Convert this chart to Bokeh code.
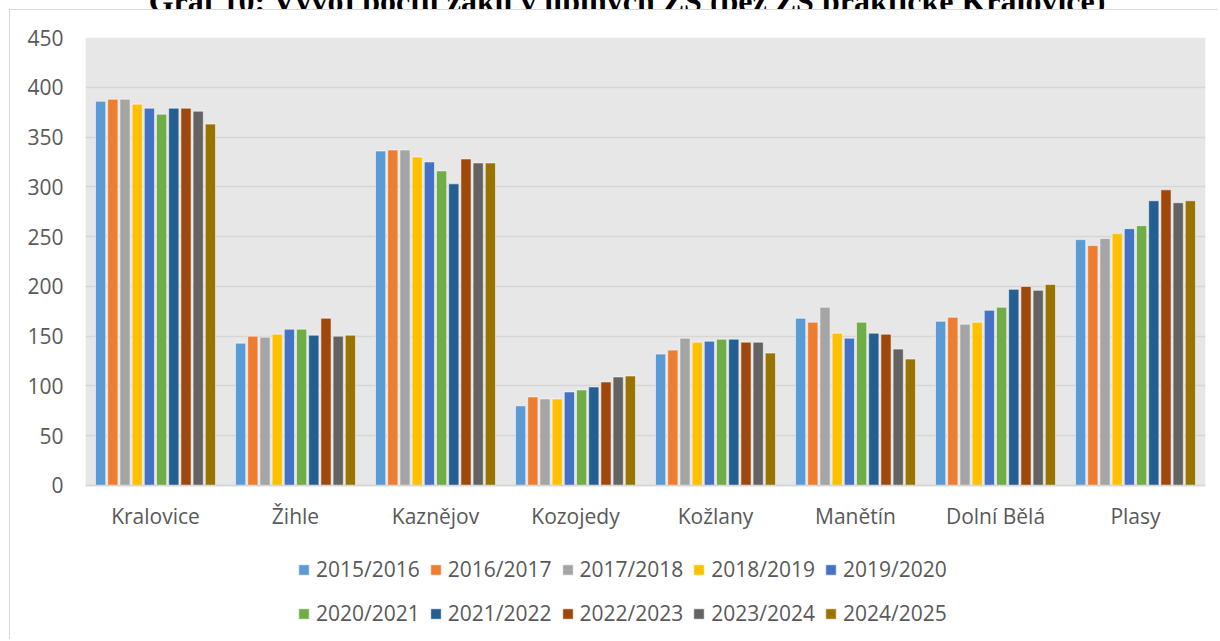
from bokeh.plotting import figure
from bokeh.models import (ColumnDataSource, FactorRange, Range1d, FixedTicker, Legend,
                          LegendItem, BoxAnnotation, Span, Div)
from bokeh.layouts import column
from bokeh.transform import dodge
from bokeh.core.properties import value
from bokeh.embed import file_html
from bokeh.resources import INLINE

title = "Graf 10: Vývoj počtu žáků v úplných ZŠ (bez ZŠ praktické Kralovice)"
categories = ["Kralovice", "Žihle", "Kaznějov", "Kozojedy", "Kožlany", "Manětín", "Dolní Bělá", "Plasy"]
years = ["2015/2016", "2016/2017", "2017/2018", "2018/2019", "2019/2020",
         "2020/2021", "2021/2022", "2022/2023", "2023/2024", "2024/2025"]

# values per school year, in category order
y2015_2016 = [386, 143, 336, 80, 132, 168, 165, 247]
y2016_2017 = [388, 150, 337, 89, 136, 164, 169, 241]
y2017_2018 = [388, 149, 337, 87, 148, 179, 162, 248]
y2018_2019 = [383, 152, 330, 87, 144, 153, 164, 253]
y2019_2020 = [379, 157, 325, 94, 145, 148, 176, 258]
y2020_2021 = [373, 157, 316, 96, 147, 164, 179, 261]
y2021_2022 = [379, 151, 303, 99, 147, 153, 197, 286]
y2022_2023 = [379, 168, 328, 104, 144, 152, 200, 297]
y2023_2024 = [376, 150, 324, 109, 144, 137, 196, 284]
y2024_2025 = [363, 151, 324, 110, 133, 127, 202, 286]

series = [y2015_2016, y2016_2017, y2017_2018, y2018_2019, y2019_2020,
          y2020_2021, y2021_2022, y2022_2023, y2023_2024, y2024_2025]
colors = ["#5B9BD5", "#ED7D31", "#A5A5A5", "#FFC000", "#4472C4",
          "#70AD47", "#255E91", "#9E480E", "#636363", "#997300"]

y_ticks = [0, 50, 100, 150, 200, 250, 300, 350, 400, 450]

data = {"cat": categories}
for i, s in enumerate(series):
    data["s%d" % i] = s
source = ColumnDataSource(data)

FONT = "Open Sans"
TXT = "#595959"

W, H = 1209, 630
p = figure(width=W, height=H, output_backend="svg", toolbar_location=None,
           x_range=FactorRange(factors=categories), y_range=Range1d(-155.7, 450),
           x_axis_location=None,
           min_border_left=75, min_border_right=14, min_border_top=27, min_border_bottom=0)
p.margin = (0, 0, 0, 9)
p.styles = {"border-left": "1px solid #d9d9d9", "border-top": "1px solid #d9d9d9"}
p.background_fill_color = "white"
p.border_fill_color = "white"
p.outline_line_color = None

plot_area = BoxAnnotation(bottom=0, top=450, fill_color="#e7e7e7", fill_alpha=1,
                          line_color=None, level="image")
p.add_layout(plot_area)

step = 0.0871
renderers = []
for i, s in enumerate(series):
    off = (i - 4.5) * step
    r = p.vbar(x=dodge("cat", off, range=p.x_range), top="s%d" % i, width=0.073,
               source=source, fill_color=colors[i], line_color="white",
               line_alpha=0.55, line_width=1)
    renderers.append(r)

p.xgrid.grid_line_color = None
p.ygrid.grid_line_color = "#d6d6d6"
p.ygrid.grid_line_width = 1.5
p.yaxis.ticker = FixedTicker(ticks=y_ticks)
p.yaxis.major_tick_line_color = None
p.yaxis.minor_tick_line_color = None
p.yaxis.axis_line_color = None
p.yaxis.major_label_text_font = FONT
p.yaxis.major_label_text_font_size = "21px"
p.yaxis.major_label_text_color = TXT
p.yaxis.major_label_standoff = 16

p.add_layout(Span(location=0, dimension="width", line_color="#d6d6d6", line_width=1.5))

p.text(x=categories, y=-31, text=categories, text_align="center", text_baseline="alphabetic",
       text_font=value(FONT), text_font_size="21px", text_color=TXT)

def make_legend(idx, loc):
    lg = Legend(items=[LegendItem(label=years[i], renderers=[renderers[i]]) for i in idx],
                orientation="horizontal", location=loc,
                glyph_width=13, glyph_height=13, label_standoff=6, spacing=9,
                label_height=20, padding=0, margin=0,
                border_line_color=None, background_fill_alpha=0,
                label_text_font=FONT, label_text_font_size="21px", label_text_color=TXT)
    p.add_layout(lg, "center")

make_legend(range(0, 5), (212, 57))
make_legend(range(5, 10), (212, 13))

title_div = Div(text='<div style="font-family:\'Liberation Serif\', serif; font-weight:bold; '
                     'font-size:32px; line-height:32px; white-space:nowrap; text-align:center; '
                     'width:1220px; margin-top:-20px; position:relative; left:17px; color:black;">'
                     + title + '</div>',
                width=1220, height=9, margin=0, styles={"overflow": "hidden"})

layout = column(title_div, p, spacing=0)
open("out.html", "w").write(file_html(layout, INLINE))
